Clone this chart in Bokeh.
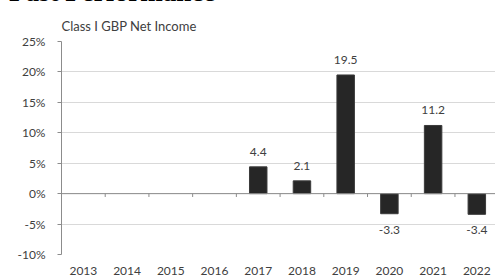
from bokeh.plotting import figure
from bokeh.models import (ColumnDataSource, Range1d, FixedTicker, PrintfTickFormatter,
                          Span, Div)
from bokeh.layouts import column
from bokeh.core.properties import value, field
from bokeh.embed import file_html
from bokeh.resources import INLINE

years = ["2013", "2014", "2015", "2016", "2017", "2018", "2019", "2020", "2021", "2022"]
net_income = [None, None, None, None, 4.4, 2.1, 19.5, -3.3, 11.2, -3.4]
y_ticks = [-10, -5, 0, 5, 10, 15, 20, 25]
chart_title = "Class I GBP Net Income"
page_title = "Past Performance"

FONT = "Lato"
TXT = "#404040"
FS = "12px"

idx = list(range(len(years)))
bx = [i for i, v in zip(idx, net_income) if v is not None]
bv = [v for v in net_income if v is not None]
src = ColumnDataSource(dict(
    x=bx, top=bv,
    label=["%.1f" % v for v in bv],
    baseline=["bottom" if v >= 0 else "top" for v in bv],
    yoff=[-11 if v >= 0 else 12 for v in bv],
))

p = figure(frame_width=435, frame_height=213, output_backend="svg", toolbar_location=None,
           x_range=Range1d(-0.5, 9.45), y_range=Range1d(y_ticks[0], y_ticks[-1]),
           min_border_left=0, min_border_right=0, min_border_top=0, min_border_bottom=0)
p.margin = (7, 0, 0, 14)
p.outline_line_color = None
p.background_fill_color = "white"

p.title.text = chart_title
p.title.align = "left"
p.title.text_font = FONT
p.title.text_font_style = "normal"
p.title.text_font_size = "13px"
p.title.text_color = TXT
p.title.standoff = 16

# y axis
p.yaxis.ticker = FixedTicker(ticks=y_ticks)
p.yaxis.formatter = PrintfTickFormatter(format="%d%%")
p.yaxis.axis_line_color = "#8c8c8c"
p.yaxis.major_tick_line_color = "#8c8c8c"
p.yaxis.major_tick_out = 4
p.yaxis.major_tick_in = 0
p.yaxis.minor_tick_line_color = None
p.yaxis.major_label_standoff = 12
p.yaxis.major_label_text_font = FONT
p.yaxis.major_label_text_font_size = FS
p.yaxis.major_label_text_color = TXT

# x axis: labels only
p.xaxis.ticker = FixedTicker(ticks=idx)
p.xaxis.major_label_overrides = {i: y for i, y in zip(idx, years)}
p.xaxis.axis_line_color = None
p.xaxis.major_tick_line_color = None
p.xaxis.minor_tick_line_color = None
p.xaxis.major_tick_out = 0
p.xaxis.major_tick_in = 0
p.xaxis.major_label_standoff = 12
p.xaxis.major_label_text_font = FONT
p.xaxis.major_label_text_font_size = FS
p.xaxis.major_label_text_color = TXT

p.xgrid.grid_line_color = None
p.ygrid.ticker = FixedTicker(ticks=y_ticks)
p.ygrid.grid_line_color = "#d9d9d9"

p.vbar(x="x", top="top", bottom=0, width=0.4, source=src,
       fill_color="#262626", line_color="#3a3a3a")

# category axis line at zero with boundary ticks
p.add_layout(Span(location=0, dimension="width", line_color="#8c8c8c", line_width=1))
bounds = [i + 0.5 for i in idx[:-1]]
p.segment(x0=bounds, x1=bounds, y0=[0] * len(bounds), y1=[-0.55] * len(bounds),
          line_color="#8c8c8c", line_width=1)

p.text(x="x", y="top", text="label", source=src, text_align="center",
       text_baseline=field("baseline"), y_offset=field("yoff"),
       text_font=value(FONT), text_font_size=value(FS), text_color=TXT)

div = Div(text=page_title, width=300, height=30,
          styles={"position": "absolute", "top": "-28px", "left": "4px",
                  "font-family": "Liberation Serif", "font-weight": "bold",
                  "font-size": "27px", "line-height": "30px", "color": "#000000",
                  "overflow": "visible", "z-index": "10"})

layout = column(div, p, spacing=0)
open("out.html", "w").write(file_html(layout, INLINE))
